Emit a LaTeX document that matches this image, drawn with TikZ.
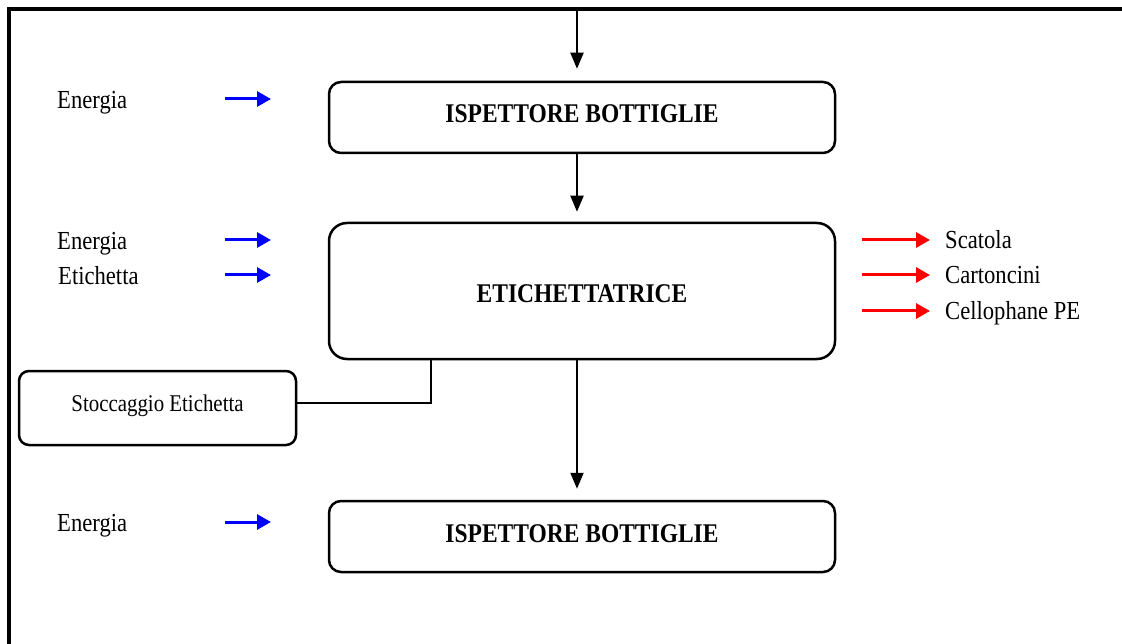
\documentclass[tikz,border=0pt]{standalone}
\usepackage{fontspec}
\setmainfont{Liberation Serif}[FakeStretch=0.87]
\usetikzlibrary{arrows.meta}
\begin{document}
\begin{tikzpicture} [
   x=1pt, y=-1pt,
   box/.style={draw, line width=2.5pt, rounded corners=12pt, minimum width=506pt,
      minimum height=71pt, text height=18pt, text depth=7pt,
      font=\fontsize{27}{31}\selectfont\bfseries},
   flow/.style={-{Triangle[width=13pt,length=16pt]}, line width=2pt},
   inp/.style={-{Triangle[width=15pt,length=14pt]}, line width=3pt, blue},
   outp/.style={-{Triangle[width=15pt,length=14pt]}, line width=3pt, red},
   lbl/.style={anchor=base west, inner sep=0pt, font=\fontsize{26}{30}\selectfont}
]
   \useasboundingbox (0,0) rectangle (1122,644);
   \draw [line width=4pt] (1122,9.5) -- (8.5,9.5) -- (8.5,644);

   \node (I1) [box] at (582,117.5) {ISPETTORE BOTTIGLIE};
   \node (ET) [box, minimum height=136pt, rounded corners=18pt, text height=24pt,
      text depth=0pt] at (582,291) {ETICHETTATRICE};
   \node (I2) [box] at (582,536.5) {ISPETTORE BOTTIGLIE};
   \node (ST) [box, minimum width=277pt, minimum height=74pt, rounded corners=10pt,
      text height=14pt, text depth=8pt, font=\fontsize{24}{28}\selectfont]
      at (157.5,408) {Stoccaggio Etichetta};

   \coordinate (top) at (577,11);
   \draw [flow, shorten >=12pt] (top) -- (I1.north -| top);
   \draw [flow, shorten >=10pt] (I1.south -| top) -- (ET.north -| top);
   \draw [flow, shorten >=11pt] (ET.south -| top) -- (I2.north -| top);

   \coordinate (jn) at (431,403);
   \draw [line width=1.5pt] (ET.south -| jn) -- (jn) -- (ST.east |- jn);

   % ingressi
   \node (e1) [lbl] at (57,108.5) {Energia};
   \node (e2) [lbl] at (57,249.5) {Energia};
   \node (e3) [lbl] at (58,284.5) {Etichetta};
   \node (e4) [lbl] at (57,531.5) {Energia};
   \foreach \n/\y in {1/99, 2/240, 3/275, 4/522} {
      \coordinate (a\n) at (225,\y);
      \coordinate (b\n) at (271,\y);
      \draw [inp] (a\n) -- (b\n);
   }

   % uscite
   \node (u1) [lbl] at (945,248.5) {Scatola};
   \node (u2) [lbl] at (945,283.5) {Cartoncini};
   \node (u3) [lbl] at (945,319.5) {Cellophane PE};
   \foreach \n/\y in {1/240, 2/275, 3/311} {
      \coordinate (c\n) at (862,\y);
      \coordinate (d\n) at (930,\y);
      \draw [outp] (c\n) -- (d\n);
   }
\end{tikzpicture}
\end{document}
